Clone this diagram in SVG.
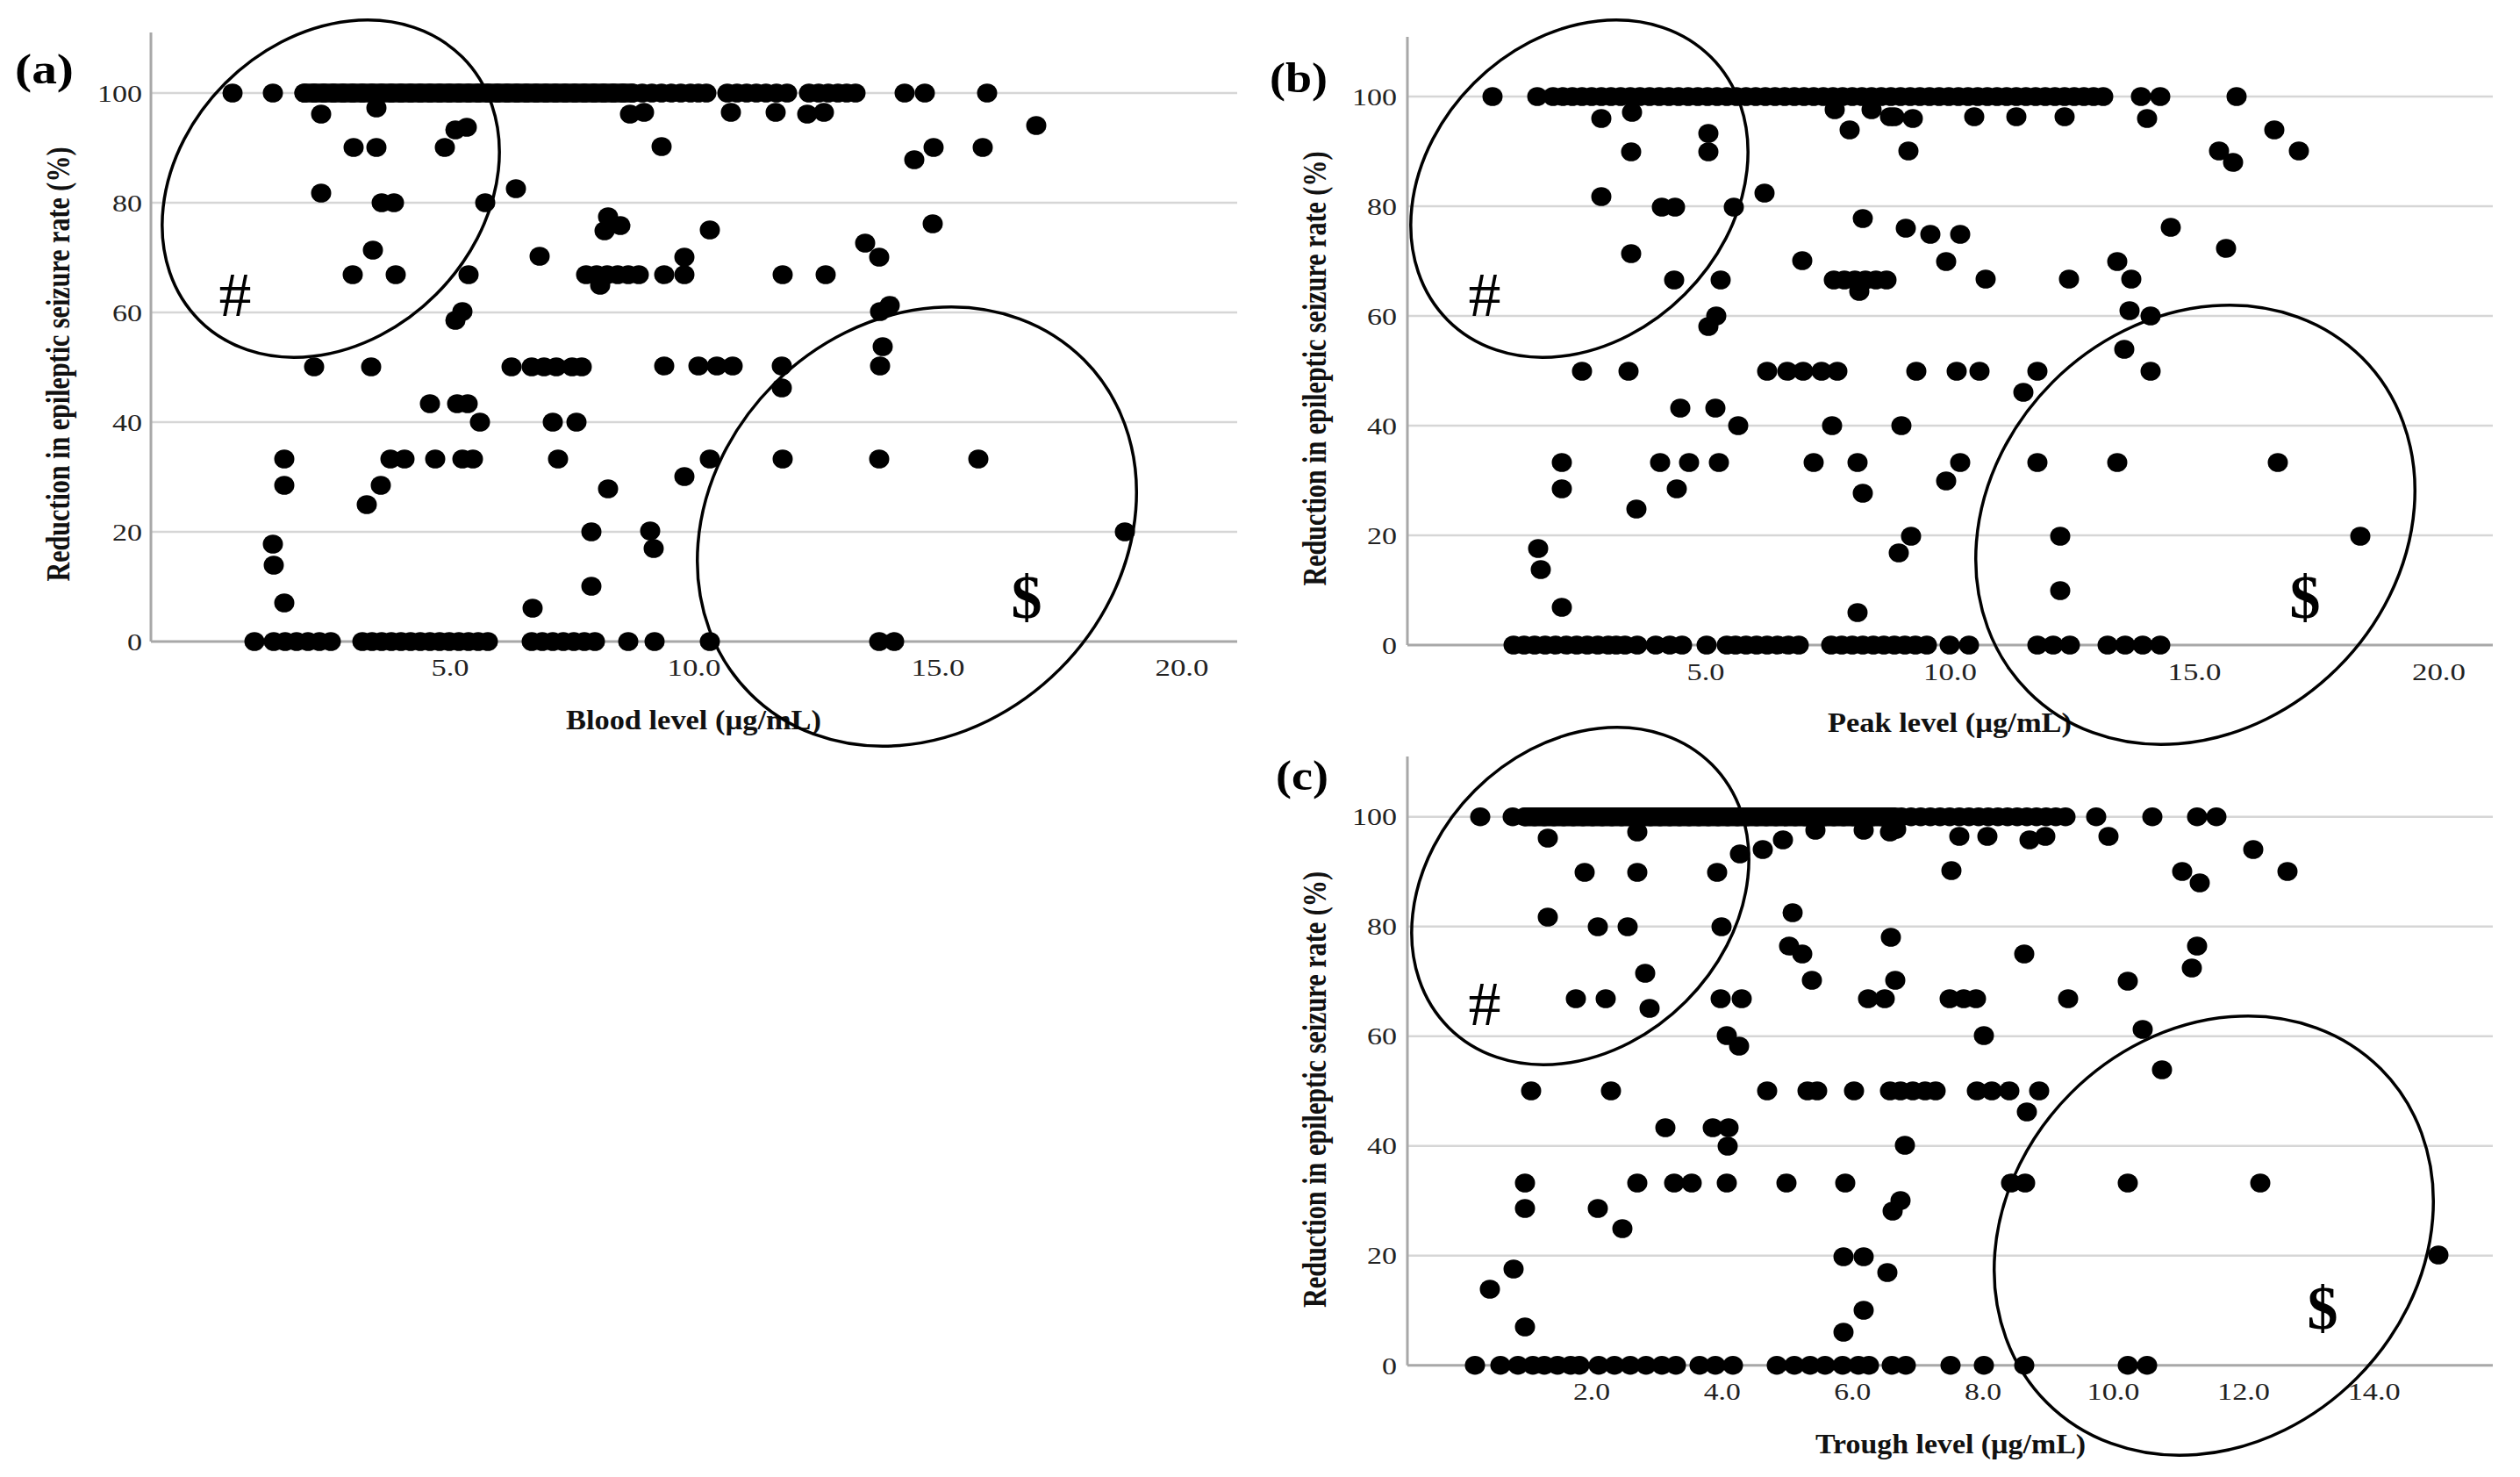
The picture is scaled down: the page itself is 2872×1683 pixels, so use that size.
<svg xmlns="http://www.w3.org/2000/svg" xmlns:xlink="http://www.w3.org/1999/xlink" width="2872" height="1683" viewBox="0 0 2872 1683">
<style>
.grid{stroke:#d6d6d6;stroke-width:2.5;fill:none}
.axis{stroke:#a8a8a8;stroke-width:3;fill:none}
.tick{font-family:"Liberation Serif","Times New Roman",serif;font-size:28px;fill:#222}
.ty{text-anchor:end}
.tx{text-anchor:middle}
.title{font-family:"Liberation Serif","Times New Roman",serif;font-size:31px;font-weight:bold;fill:#111}
.lab{font-family:"Liberation Serif","Times New Roman",serif;font-size:48px;font-weight:bold;fill:#000}
.hash{font-family:"Liberation Serif","Times New Roman",serif;font-size:72px;fill:#000;text-anchor:middle}
.dol{font-family:"Liberation Serif","Times New Roman",serif;font-size:70px;font-weight:bold;fill:#000;text-anchor:middle}
.ring{fill:none;stroke:#000;stroke-width:3.5}
.band{fill:#000}
</style>
<defs>
<ellipse id="d" cx="0" cy="0" rx="11.5" ry="10.8" fill="#000"/>
</defs>
<rect width="2872" height="1683" fill="#fff"/>

<!-- Panel (a) -->
<g id="panel-a">
<g id="axes-a">
<line class="grid" x1="172" y1="106" x2="1410" y2="106"/>
<line class="grid" x1="172" y1="231" x2="1410" y2="231"/>
<line class="grid" x1="172" y1="356" x2="1410" y2="356"/>
<line class="grid" x1="172" y1="481" x2="1410" y2="481"/>
<line class="grid" x1="172" y1="606" x2="1410" y2="606"/>
<line class="axis" x1="172" y1="731" x2="1410" y2="731"/>
<line class="axis" x1="172" y1="37" x2="172" y2="731"/>
<text class="tick ty" x="162" y="115.5" textLength="51" lengthAdjust="spacingAndGlyphs">100</text>
<text class="tick ty" x="162" y="240.5" textLength="34" lengthAdjust="spacingAndGlyphs">80</text>
<text class="tick ty" x="162" y="365.5" textLength="34" lengthAdjust="spacingAndGlyphs">60</text>
<text class="tick ty" x="162" y="490.5" textLength="34" lengthAdjust="spacingAndGlyphs">40</text>
<text class="tick ty" x="162" y="615.5" textLength="34" lengthAdjust="spacingAndGlyphs">20</text>
<text class="tick ty" x="162" y="741" textLength="17" lengthAdjust="spacingAndGlyphs">0</text>
<text class="tick tx" x="513" y="770" textLength="43" lengthAdjust="spacingAndGlyphs">5.0</text>
<text class="tick tx" x="791" y="770" textLength="61" lengthAdjust="spacingAndGlyphs">10.0</text>
<text class="tick tx" x="1069" y="770" textLength="61" lengthAdjust="spacingAndGlyphs">15.0</text>
<text class="tick tx" x="1347" y="770" textLength="61" lengthAdjust="spacingAndGlyphs">20.0</text>
<text class="title" x="645" y="831" textLength="291" lengthAdjust="spacingAndGlyphs">Blood level (µg/mL)</text>
<text class="title" text-anchor="middle" transform="translate(79,415) scale(1.2,1) rotate(-90)" textLength="495" lengthAdjust="spacingAndGlyphs">Reduction in epileptic seizure rate (%)</text>
<text class="lab" x="17" y="95" textLength="67" lengthAdjust="spacingAndGlyphs">(a)</text>
</g>
<g id="points-a">
<rect class="band" x="335.5" y="95.2" width="396" height="21.6" rx="11.5" ry="10.8"/>
<use href="#d" x="265" y="106"/><use href="#d" x="311" y="106"/>
<use href="#d" x="347" y="106"/><use href="#d" x="358" y="106"/><use href="#d" x="369" y="106"/><use href="#d" x="380" y="106"/><use href="#d" x="391" y="106"/><use href="#d" x="402" y="106"/><use href="#d" x="413" y="106"/><use href="#d" x="424" y="106"/><use href="#d" x="435" y="106"/><use href="#d" x="446" y="106"/><use href="#d" x="457" y="106"/><use href="#d" x="468" y="106"/><use href="#d" x="479" y="106"/><use href="#d" x="490" y="106"/><use href="#d" x="501" y="106"/><use href="#d" x="512" y="106"/><use href="#d" x="523" y="106"/><use href="#d" x="534" y="106"/><use href="#d" x="545" y="106"/><use href="#d" x="556" y="106"/><use href="#d" x="567" y="106"/><use href="#d" x="578" y="106"/><use href="#d" x="589" y="106"/><use href="#d" x="600" y="106"/><use href="#d" x="611" y="106"/><use href="#d" x="622" y="106"/><use href="#d" x="633" y="106"/><use href="#d" x="644" y="106"/><use href="#d" x="655" y="106"/><use href="#d" x="666" y="106"/><use href="#d" x="677" y="106"/><use href="#d" x="688" y="106"/><use href="#d" x="699" y="106"/><use href="#d" x="710" y="106"/><use href="#d" x="721" y="106"/><use href="#d" x="732" y="106"/><use href="#d" x="743" y="106"/><use href="#d" x="754" y="106"/><use href="#d" x="765" y="106"/><use href="#d" x="776" y="106"/><use href="#d" x="787" y="106"/><use href="#d" x="796" y="106"/><use href="#d" x="805" y="106"/>
<use href="#d" x="829" y="106"/><use href="#d" x="840" y="106"/><use href="#d" x="851" y="106"/><use href="#d" x="862" y="106"/><use href="#d" x="873" y="106"/><use href="#d" x="885" y="106"/><use href="#d" x="897" y="106"/>
<use href="#d" x="922" y="106"/><use href="#d" x="933" y="106"/><use href="#d" x="944" y="106"/><use href="#d" x="955" y="106"/><use href="#d" x="965" y="106"/><use href="#d" x="975" y="106"/>
<use href="#d" x="1031" y="106"/><use href="#d" x="1054" y="106"/><use href="#d" x="1125" y="106"/>
<use href="#d" x="366" y="130"/><use href="#d" x="429" y="123"/><use href="#d" x="532" y="145"/><use href="#d" x="519" y="148"/><use href="#d" x="403" y="168"/><use href="#d" x="429" y="168"/><use href="#d" x="507" y="168"/><use href="#d" x="366" y="220"/><use href="#d" x="435" y="231"/><use href="#d" x="449" y="231"/><use href="#d" x="553" y="231"/><use href="#d" x="588" y="215"/><use href="#d" x="425" y="285"/><use href="#d" x="402" y="313"/><use href="#d" x="451" y="313"/><use href="#d" x="534" y="313"/><use href="#d" x="527" y="355"/><use href="#d" x="519" y="365"/><use href="#d" x="615" y="292"/><use href="#d" x="693" y="247"/><use href="#d" x="707" y="257"/><use href="#d" x="689" y="263"/>
<use href="#d" x="668" y="313"/><use href="#d" x="680" y="313"/><use href="#d" x="692" y="313"/><use href="#d" x="704" y="313"/><use href="#d" x="716" y="313"/><use href="#d" x="728" y="313"/><use href="#d" x="684" y="325"/>
<use href="#d" x="718" y="130"/><use href="#d" x="734" y="128"/><use href="#d" x="833" y="128"/><use href="#d" x="884" y="128"/><use href="#d" x="920" y="130"/><use href="#d" x="939" y="128"/><use href="#d" x="1181" y="143"/><use href="#d" x="754" y="167"/><use href="#d" x="1042" y="182"/><use href="#d" x="1064" y="168"/><use href="#d" x="1120" y="168"/><use href="#d" x="809" y="262"/><use href="#d" x="1063" y="255"/><use href="#d" x="986" y="277"/><use href="#d" x="1002" y="293"/><use href="#d" x="757" y="313"/><use href="#d" x="780" y="313"/><use href="#d" x="780" y="293"/><use href="#d" x="892" y="313"/><use href="#d" x="941" y="313"/><use href="#d" x="1014" y="348"/><use href="#d" x="1003" y="355"/><use href="#d" x="1006" y="395"/><use href="#d" x="1003" y="417"/>
<use href="#d" x="358" y="418"/><use href="#d" x="423" y="418"/><use href="#d" x="583" y="418"/><use href="#d" x="606" y="418"/><use href="#d" x="620" y="418"/><use href="#d" x="634" y="418"/><use href="#d" x="652" y="418"/><use href="#d" x="663" y="418"/><use href="#d" x="757" y="417"/><use href="#d" x="796" y="417"/><use href="#d" x="817" y="417"/><use href="#d" x="835" y="417"/><use href="#d" x="891" y="417"/><use href="#d" x="891" y="442"/>
<use href="#d" x="490" y="460"/><use href="#d" x="521" y="460"/><use href="#d" x="533" y="460"/><use href="#d" x="547" y="481"/><use href="#d" x="630" y="481"/><use href="#d" x="657" y="481"/>
<use href="#d" x="324" y="523"/><use href="#d" x="445" y="523"/><use href="#d" x="461" y="523"/><use href="#d" x="496" y="523"/><use href="#d" x="527" y="523"/><use href="#d" x="539" y="523"/><use href="#d" x="636" y="523"/><use href="#d" x="809" y="523"/><use href="#d" x="892" y="523"/><use href="#d" x="1002" y="523"/><use href="#d" x="1115" y="523"/>
<use href="#d" x="324" y="553"/><use href="#d" x="434" y="553"/><use href="#d" x="418" y="575"/><use href="#d" x="693" y="557"/><use href="#d" x="780" y="543"/>
<use href="#d" x="674" y="606"/><use href="#d" x="741" y="605"/><use href="#d" x="1282" y="606"/><use href="#d" x="745" y="625"/><use href="#d" x="311" y="620"/><use href="#d" x="312" y="644"/><use href="#d" x="324" y="687"/><use href="#d" x="674" y="668"/><use href="#d" x="607" y="693"/>
<use href="#d" x="290" y="731"/><use href="#d" x="312" y="731"/><use href="#d" x="325" y="731"/><use href="#d" x="338" y="731"/><use href="#d" x="351" y="731"/><use href="#d" x="364" y="731"/><use href="#d" x="377" y="731"/>
<use href="#d" x="413" y="731"/><use href="#d" x="424" y="731"/><use href="#d" x="435" y="731"/><use href="#d" x="446" y="731"/><use href="#d" x="457" y="731"/><use href="#d" x="468" y="731"/><use href="#d" x="479" y="731"/><use href="#d" x="490" y="731"/><use href="#d" x="501" y="731"/><use href="#d" x="512" y="731"/><use href="#d" x="523" y="731"/><use href="#d" x="534" y="731"/><use href="#d" x="545" y="731"/><use href="#d" x="556" y="731"/>
<use href="#d" x="606" y="731"/><use href="#d" x="618" y="731"/><use href="#d" x="630" y="731"/><use href="#d" x="642" y="731"/><use href="#d" x="654" y="731"/><use href="#d" x="666" y="731"/><use href="#d" x="678" y="731"/>
<use href="#d" x="716" y="731"/><use href="#d" x="746" y="731"/><use href="#d" x="809" y="731"/><use href="#d" x="1002" y="731"/><use href="#d" x="1019" y="731"/>
</g>
<g id="annot-a">
<ellipse class="ring" cx="377" cy="215" rx="212" ry="170" transform="rotate(-45 377 215)"/>
<ellipse class="ring" cx="1045" cy="600" rx="269" ry="230" transform="rotate(-45 1045 600)"/>
<text class="hash" x="268" y="360" textLength="37" lengthAdjust="spacingAndGlyphs">#</text>
<text class="dol" x="1170" y="704" textLength="35" lengthAdjust="spacingAndGlyphs">$</text>
</g>
</g>

<!-- Panel (b) -->
<g id="panel-b">
<g id="axes-b">
<line class="grid" x1="1604" y1="110" x2="2841" y2="110"/>
<line class="grid" x1="1604" y1="235" x2="2841" y2="235"/>
<line class="grid" x1="1604" y1="360" x2="2841" y2="360"/>
<line class="grid" x1="1604" y1="485" x2="2841" y2="485"/>
<line class="grid" x1="1604" y1="610" x2="2841" y2="610"/>
<line class="axis" x1="1604" y1="735" x2="2841" y2="735"/>
<line class="axis" x1="1604" y1="42" x2="1604" y2="735"/>
<text class="tick ty" x="1592" y="119.5" textLength="51" lengthAdjust="spacingAndGlyphs">100</text>
<text class="tick ty" x="1592" y="244.5" textLength="34" lengthAdjust="spacingAndGlyphs">80</text>
<text class="tick ty" x="1592" y="369.5" textLength="34" lengthAdjust="spacingAndGlyphs">60</text>
<text class="tick ty" x="1592" y="494.5" textLength="34" lengthAdjust="spacingAndGlyphs">40</text>
<text class="tick ty" x="1592" y="619.5" textLength="34" lengthAdjust="spacingAndGlyphs">20</text>
<text class="tick ty" x="1592" y="745" textLength="17" lengthAdjust="spacingAndGlyphs">0</text>
<text class="tick tx" x="1944" y="775" textLength="43" lengthAdjust="spacingAndGlyphs">5.0</text>
<text class="tick tx" x="2222.5" y="775" textLength="61" lengthAdjust="spacingAndGlyphs">10.0</text>
<text class="tick tx" x="2501" y="775" textLength="61" lengthAdjust="spacingAndGlyphs">15.0</text>
<text class="tick tx" x="2779.5" y="775" textLength="61" lengthAdjust="spacingAndGlyphs">20.0</text>
<text class="title" x="2083" y="834" textLength="278" lengthAdjust="spacingAndGlyphs">Peak level (µg/mL)</text>
<text class="title" text-anchor="middle" transform="translate(1511,420) scale(1.2,1) rotate(-90)" textLength="495" lengthAdjust="spacingAndGlyphs">Reduction in epileptic seizure rate (%)</text>
<text class="lab" x="1447" y="105" textLength="66" lengthAdjust="spacingAndGlyphs">(b)</text>
</g>
<g id="points-b">
<use href="#d" x="1701" y="110"/><use href="#d" x="1752" y="110"/>
<use href="#d" x="1770" y="110"/><use href="#d" x="1781" y="110"/><use href="#d" x="1792" y="110"/><use href="#d" x="1803" y="110"/><use href="#d" x="1814" y="110"/><use href="#d" x="1825" y="110"/><use href="#d" x="1836" y="110"/><use href="#d" x="1847" y="110"/><use href="#d" x="1858" y="110"/><use href="#d" x="1869" y="110"/><use href="#d" x="1880" y="110"/><use href="#d" x="1891" y="110"/><use href="#d" x="1902" y="110"/><use href="#d" x="1913" y="110"/><use href="#d" x="1924" y="110"/><use href="#d" x="1935" y="110"/><use href="#d" x="1946" y="110"/><use href="#d" x="1957" y="110"/><use href="#d" x="1968" y="110"/><use href="#d" x="1979" y="110"/><use href="#d" x="1990" y="110"/><use href="#d" x="2001" y="110"/><use href="#d" x="2012" y="110"/><use href="#d" x="2023" y="110"/><use href="#d" x="2034" y="110"/><use href="#d" x="2045" y="110"/><use href="#d" x="2056" y="110"/><use href="#d" x="2067" y="110"/><use href="#d" x="2078" y="110"/><use href="#d" x="2089" y="110"/><use href="#d" x="2100" y="110"/><use href="#d" x="2111" y="110"/><use href="#d" x="2122" y="110"/><use href="#d" x="2133" y="110"/><use href="#d" x="2144" y="110"/><use href="#d" x="2155" y="110"/><use href="#d" x="2166" y="110"/><use href="#d" x="2177" y="110"/><use href="#d" x="2188" y="110"/><use href="#d" x="2199" y="110"/><use href="#d" x="2210" y="110"/><use href="#d" x="2221" y="110"/><use href="#d" x="2232" y="110"/><use href="#d" x="2243" y="110"/><use href="#d" x="2254" y="110"/><use href="#d" x="2265" y="110"/><use href="#d" x="2276" y="110"/><use href="#d" x="2287" y="110"/><use href="#d" x="2298" y="110"/><use href="#d" x="2309" y="110"/><use href="#d" x="2320" y="110"/><use href="#d" x="2331" y="110"/><use href="#d" x="2342" y="110"/><use href="#d" x="2353" y="110"/><use href="#d" x="2364" y="110"/><use href="#d" x="2375" y="110"/><use href="#d" x="2386" y="110"/><use href="#d" x="2397" y="110"/>
<use href="#d" x="2440" y="110"/><use href="#d" x="2462" y="110"/><use href="#d" x="2549" y="110"/>
<use href="#d" x="1825" y="135"/><use href="#d" x="1860" y="128"/><use href="#d" x="2091" y="125"/><use href="#d" x="2133" y="125"/><use href="#d" x="2154" y="133"/><use href="#d" x="2108" y="148"/><use href="#d" x="1947" y="152"/><use href="#d" x="1947" y="173"/><use href="#d" x="1859" y="173"/><use href="#d" x="1825" y="224"/><use href="#d" x="1894" y="236"/><use href="#d" x="1909" y="236"/><use href="#d" x="1976" y="236"/><use href="#d" x="2011" y="220"/><use href="#d" x="2123" y="249"/><use href="#d" x="1859" y="289"/><use href="#d" x="1908" y="319"/><use href="#d" x="1961" y="319"/><use href="#d" x="2054" y="297"/>
<use href="#d" x="2090" y="319"/><use href="#d" x="2102" y="319"/><use href="#d" x="2114" y="319"/><use href="#d" x="2126" y="319"/><use href="#d" x="2138" y="319"/><use href="#d" x="2150" y="319"/><use href="#d" x="2119" y="332"/>
<use href="#d" x="1956" y="360"/><use href="#d" x="1947" y="372"/>
<use href="#d" x="1803" y="423"/><use href="#d" x="1856" y="423"/><use href="#d" x="2014" y="423"/><use href="#d" x="2037" y="423"/><use href="#d" x="2055" y="423"/><use href="#d" x="2076" y="423"/><use href="#d" x="2094" y="423"/>
<use href="#d" x="2159" y="133"/><use href="#d" x="2180" y="135"/><use href="#d" x="2250" y="133"/><use href="#d" x="2298" y="133"/><use href="#d" x="2353" y="133"/><use href="#d" x="2447" y="135"/><use href="#d" x="2175" y="172"/><use href="#d" x="2592" y="148"/><use href="#d" x="2529" y="172"/><use href="#d" x="2545" y="185"/><use href="#d" x="2620" y="172"/><use href="#d" x="2172" y="260"/><use href="#d" x="2200" y="267"/><use href="#d" x="2234" y="267"/><use href="#d" x="2218" y="298"/><use href="#d" x="2263" y="318"/><use href="#d" x="2358" y="318"/><use href="#d" x="2429" y="318"/><use href="#d" x="2413" y="298"/><use href="#d" x="2474" y="259"/><use href="#d" x="2537" y="283"/><use href="#d" x="2427" y="354"/><use href="#d" x="2451" y="360"/><use href="#d" x="2421" y="398"/><use href="#d" x="2451" y="423"/><use href="#d" x="2184" y="423"/><use href="#d" x="2230" y="423"/><use href="#d" x="2256" y="423"/><use href="#d" x="2322" y="423"/><use href="#d" x="2306" y="447"/>
<use href="#d" x="1915" y="465"/><use href="#d" x="1955" y="465"/><use href="#d" x="1981" y="485"/><use href="#d" x="2088" y="485"/><use href="#d" x="2167" y="485"/>
<use href="#d" x="1780" y="527"/><use href="#d" x="1892" y="527"/><use href="#d" x="1925" y="527"/><use href="#d" x="1959" y="527"/><use href="#d" x="2067" y="527"/><use href="#d" x="2117" y="527"/><use href="#d" x="2234" y="527"/><use href="#d" x="2322" y="527"/><use href="#d" x="2413" y="527"/><use href="#d" x="2596" y="527"/>
<use href="#d" x="1780" y="557"/><use href="#d" x="1911" y="557"/><use href="#d" x="2123" y="562"/><use href="#d" x="2218" y="548"/><use href="#d" x="1865" y="580"/><use href="#d" x="1753" y="625"/><use href="#d" x="1756" y="649"/><use href="#d" x="1780" y="692"/><use href="#d" x="2117" y="698"/><use href="#d" x="2178" y="611"/><use href="#d" x="2164" y="630"/><use href="#d" x="2348" y="611"/><use href="#d" x="2348" y="673"/><use href="#d" x="2690" y="611"/>
<use href="#d" x="1725" y="735"/><use href="#d" x="1737" y="735"/><use href="#d" x="1749" y="735"/><use href="#d" x="1761" y="735"/><use href="#d" x="1773" y="735"/><use href="#d" x="1785" y="735"/><use href="#d" x="1797" y="735"/><use href="#d" x="1809" y="735"/><use href="#d" x="1821" y="735"/><use href="#d" x="1833" y="735"/><use href="#d" x="1842" y="735"/>
<use href="#d" x="1852" y="735"/><use href="#d" x="1866" y="735"/><use href="#d" x="1887" y="735"/><use href="#d" x="1903" y="735"/><use href="#d" x="1917" y="735"/><use href="#d" x="1945" y="735"/><use href="#d" x="1968" y="735"/>
<use href="#d" x="1978" y="735"/><use href="#d" x="1990" y="735"/><use href="#d" x="2002" y="735"/><use href="#d" x="2014" y="735"/><use href="#d" x="2026" y="735"/><use href="#d" x="2038" y="735"/><use href="#d" x="2050" y="735"/>
<use href="#d" x="2087" y="735"/><use href="#d" x="2099" y="735"/><use href="#d" x="2111" y="735"/><use href="#d" x="2123" y="735"/><use href="#d" x="2135" y="735"/><use href="#d" x="2147" y="735"/><use href="#d" x="2159" y="735"/><use href="#d" x="2171" y="735"/><use href="#d" x="2183" y="735"/><use href="#d" x="2196" y="735"/>
<use href="#d" x="2222" y="735"/><use href="#d" x="2244" y="735"/><use href="#d" x="2322" y="735"/><use href="#d" x="2340" y="735"/><use href="#d" x="2359" y="735"/><use href="#d" x="2402" y="735"/><use href="#d" x="2422" y="735"/><use href="#d" x="2442" y="735"/><use href="#d" x="2462" y="735"/>
</g>
<g id="annot-b">
<ellipse class="ring" cx="1800" cy="215" rx="212" ry="170" transform="rotate(-45 1800 215)"/>
<ellipse class="ring" cx="2502" cy="598" rx="269" ry="230" transform="rotate(-45 2502 598)"/>
<text class="hash" x="1692" y="360" textLength="37" lengthAdjust="spacingAndGlyphs">#</text>
<text class="dol" x="2627" y="704" textLength="35" lengthAdjust="spacingAndGlyphs">$</text>
</g>
</g>

<!-- Panel (c) -->
<g id="panel-c">
<g id="axes-c">
<line class="grid" x1="1604" y1="930.7" x2="2841" y2="930.7"/>
<line class="grid" x1="1604" y1="1055.7" x2="2841" y2="1055.7"/>
<line class="grid" x1="1604" y1="1180.7" x2="2841" y2="1180.7"/>
<line class="grid" x1="1604" y1="1305.7" x2="2841" y2="1305.7"/>
<line class="grid" x1="1604" y1="1430.7" x2="2841" y2="1430.7"/>
<line class="axis" x1="1604" y1="1555.7" x2="2841" y2="1555.7"/>
<line class="axis" x1="1604" y1="862" x2="1604" y2="1555.7"/>
<text class="tick ty" x="1592" y="940" textLength="51" lengthAdjust="spacingAndGlyphs">100</text>
<text class="tick ty" x="1592" y="1065" textLength="34" lengthAdjust="spacingAndGlyphs">80</text>
<text class="tick ty" x="1592" y="1190" textLength="34" lengthAdjust="spacingAndGlyphs">60</text>
<text class="tick ty" x="1592" y="1315" textLength="34" lengthAdjust="spacingAndGlyphs">40</text>
<text class="tick ty" x="1592" y="1440" textLength="34" lengthAdjust="spacingAndGlyphs">20</text>
<text class="tick ty" x="1592" y="1566" textLength="17" lengthAdjust="spacingAndGlyphs">0</text>
<text class="tick tx" x="1814" y="1595" textLength="42" lengthAdjust="spacingAndGlyphs">2.0</text>
<text class="tick tx" x="1962.7" y="1595" textLength="42" lengthAdjust="spacingAndGlyphs">4.0</text>
<text class="tick tx" x="2111.3" y="1595" textLength="42" lengthAdjust="spacingAndGlyphs">6.0</text>
<text class="tick tx" x="2260" y="1595" textLength="42" lengthAdjust="spacingAndGlyphs">8.0</text>
<text class="tick tx" x="2408.5" y="1595" textLength="60" lengthAdjust="spacingAndGlyphs">10.0</text>
<text class="tick tx" x="2557" y="1595" textLength="60" lengthAdjust="spacingAndGlyphs">12.0</text>
<text class="tick tx" x="2705.7" y="1595" textLength="60" lengthAdjust="spacingAndGlyphs">14.0</text>
<text class="title" x="2069" y="1656" textLength="308" lengthAdjust="spacingAndGlyphs">Trough level (µg/mL)</text>
<text class="title" text-anchor="middle" transform="translate(1511,1241.5) scale(1.2,1) rotate(-90)" textLength="497" lengthAdjust="spacingAndGlyphs">Reduction in epileptic seizure rate (%)</text>
<text class="lab" x="1454" y="900" textLength="60" lengthAdjust="spacingAndGlyphs">(c)</text>
</g>
<g id="points-c">
<rect class="band" x="1726.5" y="919.9" width="445" height="21.6" rx="11.5" ry="10.8"/>
<use href="#d" x="1687" y="930.7"/><use href="#d" x="1724" y="930.7"/>
<use href="#d" x="1738" y="930.7"/><use href="#d" x="1749" y="930.7"/><use href="#d" x="1760" y="930.7"/><use href="#d" x="1771" y="930.7"/><use href="#d" x="1782" y="930.7"/><use href="#d" x="1793" y="930.7"/><use href="#d" x="1804" y="930.7"/><use href="#d" x="1815" y="930.7"/><use href="#d" x="1826" y="930.7"/><use href="#d" x="1837" y="930.7"/><use href="#d" x="1848" y="930.7"/><use href="#d" x="1859" y="930.7"/><use href="#d" x="1870" y="930.7"/><use href="#d" x="1881" y="930.7"/><use href="#d" x="1892" y="930.7"/><use href="#d" x="1903" y="930.7"/><use href="#d" x="1914" y="930.7"/><use href="#d" x="1925" y="930.7"/><use href="#d" x="1936" y="930.7"/><use href="#d" x="1947" y="930.7"/><use href="#d" x="1958" y="930.7"/><use href="#d" x="1969" y="930.7"/><use href="#d" x="1980" y="930.7"/><use href="#d" x="1991" y="930.7"/><use href="#d" x="2002" y="930.7"/><use href="#d" x="2013" y="930.7"/><use href="#d" x="2024" y="930.7"/><use href="#d" x="2035" y="930.7"/><use href="#d" x="2046" y="930.7"/><use href="#d" x="2057" y="930.7"/><use href="#d" x="2068" y="930.7"/><use href="#d" x="2079" y="930.7"/><use href="#d" x="2090" y="930.7"/><use href="#d" x="2101" y="930.7"/><use href="#d" x="2112" y="930.7"/><use href="#d" x="2123" y="930.7"/><use href="#d" x="2134" y="930.7"/><use href="#d" x="2145" y="930.7"/><use href="#d" x="2156" y="930.7"/><use href="#d" x="2167" y="930.7"/><use href="#d" x="2178" y="930.7"/><use href="#d" x="2189" y="930.7"/><use href="#d" x="2200" y="930.7"/><use href="#d" x="2211" y="930.7"/><use href="#d" x="2222" y="930.7"/><use href="#d" x="2233" y="930.7"/><use href="#d" x="2244" y="930.7"/><use href="#d" x="2255" y="930.7"/><use href="#d" x="2266" y="930.7"/><use href="#d" x="2277" y="930.7"/><use href="#d" x="2288" y="930.7"/><use href="#d" x="2299" y="930.7"/><use href="#d" x="2310" y="930.7"/><use href="#d" x="2321" y="930.7"/><use href="#d" x="2332" y="930.7"/><use href="#d" x="2343" y="930.7"/><use href="#d" x="2354" y="930.7"/>
<use href="#d" x="2389" y="930.7"/><use href="#d" x="2453" y="930.7"/><use href="#d" x="2504" y="930.7"/><use href="#d" x="2526" y="930.7"/>
<use href="#d" x="1764" y="955"/><use href="#d" x="1866" y="948"/><use href="#d" x="2032" y="957"/><use href="#d" x="2069" y="946"/><use href="#d" x="2124" y="946"/><use href="#d" x="2154" y="948"/><use href="#d" x="1983" y="973"/><use href="#d" x="2009" y="968"/><use href="#d" x="1806" y="994"/><use href="#d" x="1866" y="994"/><use href="#d" x="1957" y="994"/><use href="#d" x="1764" y="1045"/><use href="#d" x="1821" y="1056"/><use href="#d" x="1855" y="1056"/><use href="#d" x="1962" y="1056"/><use href="#d" x="2043" y="1040"/><use href="#d" x="2155" y="1068"/><use href="#d" x="2039" y="1078"/><use href="#d" x="2054" y="1087"/><use href="#d" x="1875" y="1109"/><use href="#d" x="2065" y="1117"/><use href="#d" x="2160" y="1117"/>
<use href="#d" x="1796" y="1138"/><use href="#d" x="1830" y="1138"/><use href="#d" x="1961" y="1138"/><use href="#d" x="1985" y="1138"/><use href="#d" x="2129" y="1138"/><use href="#d" x="2148" y="1138"/><use href="#d" x="1880" y="1149"/><use href="#d" x="1968" y="1180"/><use href="#d" x="1982" y="1192"/>
<use href="#d" x="1745" y="1243"/><use href="#d" x="1836" y="1243"/><use href="#d" x="2014" y="1243"/><use href="#d" x="2060" y="1243"/><use href="#d" x="2071" y="1243"/><use href="#d" x="2113" y="1243"/><use href="#d" x="2154" y="1243"/>
<use href="#d" x="2161" y="945"/><use href="#d" x="2233" y="953"/><use href="#d" x="2265" y="953"/><use href="#d" x="2313" y="957"/><use href="#d" x="2331" y="953"/><use href="#d" x="2403" y="953"/><use href="#d" x="2224" y="992"/><use href="#d" x="2568" y="968"/><use href="#d" x="2487" y="993"/><use href="#d" x="2507" y="1006"/><use href="#d" x="2607" y="993"/><use href="#d" x="2307" y="1087"/><use href="#d" x="2504" y="1078"/><use href="#d" x="2498" y="1103"/>
<use href="#d" x="2222" y="1138"/><use href="#d" x="2238" y="1138"/><use href="#d" x="2252" y="1138"/><use href="#d" x="2357" y="1138"/><use href="#d" x="2425" y="1118"/><use href="#d" x="2261" y="1180"/><use href="#d" x="2442" y="1173"/><use href="#d" x="2464" y="1219"/>
<use href="#d" x="2166" y="1243"/><use href="#d" x="2180" y="1243"/><use href="#d" x="2194" y="1243"/><use href="#d" x="2206" y="1243"/><use href="#d" x="2253" y="1243"/><use href="#d" x="2270" y="1243"/><use href="#d" x="2290" y="1243"/><use href="#d" x="2324" y="1243"/><use href="#d" x="2310" y="1267"/>
<use href="#d" x="1898" y="1285"/><use href="#d" x="1952" y="1285"/><use href="#d" x="1970" y="1285"/><use href="#d" x="1969" y="1306"/><use href="#d" x="2171" y="1305"/>
<use href="#d" x="1738" y="1348"/><use href="#d" x="1866" y="1348"/><use href="#d" x="1908" y="1348"/><use href="#d" x="1928" y="1348"/><use href="#d" x="1968" y="1348"/><use href="#d" x="2036" y="1348"/><use href="#d" x="2103" y="1348"/><use href="#d" x="2292" y="1348"/><use href="#d" x="2308" y="1348"/><use href="#d" x="2425" y="1348"/><use href="#d" x="2576" y="1348"/>
<use href="#d" x="1738" y="1377"/><use href="#d" x="1821" y="1377"/><use href="#d" x="1849" y="1400"/><use href="#d" x="2157" y="1380"/><use href="#d" x="2166" y="1368"/><use href="#d" x="1725" y="1446"/><use href="#d" x="1698" y="1469"/><use href="#d" x="1738" y="1512"/><use href="#d" x="2101" y="1432"/><use href="#d" x="2124" y="1432"/><use href="#d" x="2151" y="1450"/><use href="#d" x="2124" y="1493"/><use href="#d" x="2101" y="1518"/><use href="#d" x="2779" y="1430"/>
<use href="#d" x="1681" y="1555.7"/><use href="#d" x="1710" y="1555.7"/><use href="#d" x="1730" y="1555.7"/><use href="#d" x="1747" y="1555.7"/><use href="#d" x="1760" y="1555.7"/><use href="#d" x="1775" y="1555.7"/><use href="#d" x="1790" y="1555.7"/><use href="#d" x="1800" y="1555.7"/><use href="#d" x="1822" y="1555.7"/><use href="#d" x="1840" y="1555.7"/><use href="#d" x="1858" y="1555.7"/><use href="#d" x="1876" y="1555.7"/><use href="#d" x="1894" y="1555.7"/><use href="#d" x="1910" y="1555.7"/><use href="#d" x="1937" y="1555.7"/><use href="#d" x="1955" y="1555.7"/><use href="#d" x="1975" y="1555.7"/><use href="#d" x="2025" y="1555.7"/><use href="#d" x="2045" y="1555.7"/><use href="#d" x="2063" y="1555.7"/><use href="#d" x="2080" y="1555.7"/><use href="#d" x="2100" y="1555.7"/><use href="#d" x="2118" y="1555.7"/><use href="#d" x="2130" y="1555.7"/><use href="#d" x="2156" y="1555.7"/><use href="#d" x="2172" y="1555.7"/><use href="#d" x="2223" y="1555.7"/><use href="#d" x="2261" y="1555.7"/><use href="#d" x="2307" y="1555.7"/><use href="#d" x="2425" y="1555.7"/><use href="#d" x="2447" y="1555.7"/>
</g>
<g id="annot-c">
<ellipse class="ring" cx="1801" cy="1021" rx="212" ry="170" transform="rotate(-45 1801 1021)"/>
<ellipse class="ring" cx="2523" cy="1408" rx="269" ry="230" transform="rotate(-45 2523 1408)"/>
<text class="hash" x="1692" y="1168" textLength="37" lengthAdjust="spacingAndGlyphs">#</text>
<text class="dol" x="2647" y="1514" textLength="35" lengthAdjust="spacingAndGlyphs">$</text>
</g>
</g>
</svg>
